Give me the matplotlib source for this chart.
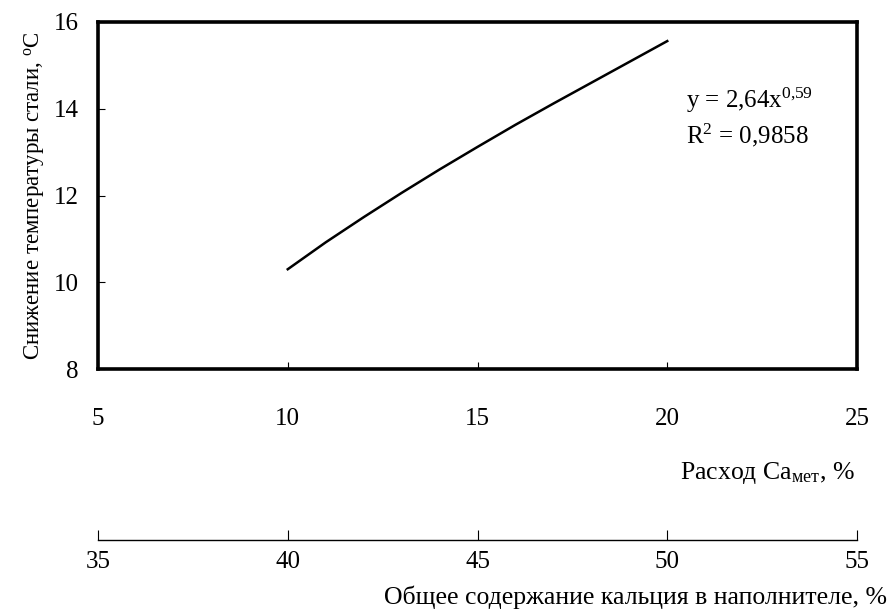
import matplotlib
matplotlib.use('Agg')
import matplotlib.pyplot as plt

plt.rcParams['font.family'] = ['Liberation Serif', 'DejaVu Serif']
plt.rcParams['mathtext.fontset'] = 'custom'
plt.rcParams['mathtext.rm'] = 'Liberation Serif'
plt.rcParams['mathtext.it'] = 'Liberation Serif:italic'

# Ca_мет consumption [%] vs steel temperature drop [°C]
ca_met = [10, 11, 12, 13, 14, 15, 16, 17, 18, 19, 20]
temp_drop = [10.3, 10.92, 11.5, 12.06, 12.6, 13.12, 13.63, 14.12, 14.6, 15.08, 15.56]

y_ticks = [8, 10, 12, 14, 16]
x_ticks = [5, 10, 15, 20, 25]
x2_ticks = [35, 40, 45, 50, 55]

W, H = 889, 614
fig = plt.figure(figsize=(W/100, H/100), dpi=100)

# main axes (pixel box 98..857 x 22..369)
ax = fig.add_axes([98/W, 1 - 369/H, (857-98)/W, (369-22)/H])
ax.plot(ca_met, temp_drop, color='k', lw=1.8)
ax.set_xlim(5, 25); ax.set_ylim(8, 16)
ax.set_xticks(x_ticks); ax.set_yticks(y_ticks)
for s in ax.spines.values():
    s.set_linewidth(2.6)
ax.tick_params(axis='both', direction='in', length=5, width=0.8, labelsize=18)
ax.tick_params(axis='x', pad=28)
ax.tick_params(axis='y', pad=14)
ax.set_ylabel('Снижение температуры стали, $^{\\mathrm{o}}$C', fontsize=16.5, labelpad=5)

ax.text(20.5, 14.2, 'y = 2,64x$^{\\mathrm{0{,}59}}$', fontsize=18, va='center')
ax.text(20.5, 13.38, 'R$^{\\mathrm{2}}$ = 0,9858', fontsize=18, va='center')

fig.text(855/W, 1 - 473/H, 'Расход Ca$_{\\mathrm{мет}}$, %', fontsize=18.5,
         ha='right', va='center')

# second scale: total calcium content in filler
ax2 = fig.add_axes([98/W, 1 - 540/H, (857-98)/W, 0.001])
ax2.set_xlim(35, 55)
ax2.set_xticks(x2_ticks)
ax2.set_yticks([])
for k in ['top', 'left', 'right']:
    ax2.spines[k].set_visible(False)
ax2.spines['bottom'].set_linewidth(1.0)
ax2.tick_params(axis='x', direction='in', length=7, width=0.8, labelsize=18, pad=8)
ax2.patch.set_visible(False)

fig.text(887/W, 1 - 597/H, 'Общее содержание кальция в наполнителе, %', fontsize=18.5,
         ha='right', va='center')

fig.savefig('out.png', dpi=100)
